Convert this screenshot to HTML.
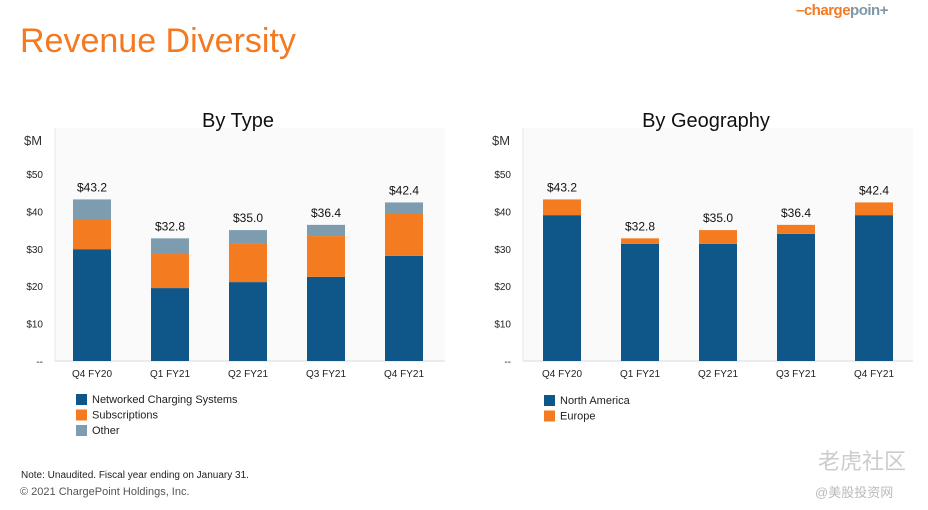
<!DOCTYPE html>
<html><head><meta charset="utf-8">
<style>
body{margin:0;width:928px;height:510px;background:#fff;font-family:"Liberation Sans",sans-serif;position:relative;overflow:hidden}
.abs{position:absolute}
</style></head>
<body>
<div class="abs" style="left:20px;top:22px;font-size:34px;color:#f47920">Revenue Diversity</div>
<div class="abs" style="left:796px;top:2px;font-size:15px;font-weight:bold;letter-spacing:-0.5px"><span style="color:#f47920">–charge</span><span style="color:#7e97a8">poin+</span></div>
<svg id="chart" class="abs" style="left:0;top:0" width="928" height="510"></svg>
<div class="abs" style="left:21px;top:470px;font-size:10px;color:#222">Note: Unaudited. Fiscal year ending on January 31.</div>
<div class="abs" style="left:20px;top:486px;font-size:11px;color:#555">© 2021 ChargePoint Holdings, Inc.</div>
<div class="abs" style="left:818px;top:444px;font-size:22px;color:#ccc;font-family:'Liberation Sans','Noto Sans CJK SC',sans-serif">老虎社区</div>
<div class="abs" style="left:815px;top:482px;font-size:13px;color:#bbb;font-family:'Liberation Sans','Noto Sans CJK SC',sans-serif">@美股投资网</div>
<script>
const categories=["Q4 FY20","Q1 FY21","Q2 FY21","Q3 FY21","Q4 FY21"];
const totals=["$43.2","$32.8","$35.0","$36.4","$42.4"];
const totalValues=[43.2,32.8,35.0,36.4,42.4];
const ncs=[29.9,19.5,21.1,22.5,28.1];
const subs=[7.8,9.1,10.2,10.9,11.2];
const other=[5.5,4.2,3.7,3.0,3.1];
const northAmerica=[39.0,31.3,31.3,34.0,39.0];
const europe=[4.2,1.5,3.7,2.4,3.4];
const yTicks=[0,10,20,30,40,50];
const yTickLabels=["--","$10","$20","$30","$40","$50"];
const C={blue:"#0f5788",orange:"#f47b20",grey:"#7d9cb0"};
const svg=document.getElementById('chart');
const NS="http://www.w3.org/2000/svg";
function mk(tag,attrs,parent){const e=document.createElementNS(NS,tag);for(const k in attrs)e.setAttribute(k,attrs[k]);(parent||svg).appendChild(e);return e;}
function txt(x,y,s,size,anchor,fill,parent){const t=mk('text',{x:x,y:y,'font-size':size,'text-anchor':anchor,fill:fill,'font-family':'Liberation Sans, sans-serif'},parent);t.textContent=s;return t;}
function drawChart(ox,title,series,colors,names,legendY,shift){
  const g=mk('g',{});
  
  
  const left=ox+55,right=ox+445,y0=361,scale=3.74;
  const yS=v=>y0-v*scale;
  const band=(right-left)/categories.length;
  const xC=i=>left+band*(i+0.5)+shift;
  mk('rect',{x:left,y:128,width:right-left,height:y0-128,fill:'#fafafa'},g);
  const tt=txt(ox+238,127,title,20,'middle','#111',g);
  
  
  const u=txt(ox+24,145,'$M',13,'start','#333',g);
  
  
  yTicks.forEach((v,i)=>{const t=txt(ox+43,yS(v)+4,yTickLabels[i],10,'end','#222',g);
    
    });
  mk('line',{x1:left,y1:y0,x2:right,y2:y0,stroke:'#d9d9d9'},g);
  mk('line',{x1:left,y1:128,x2:left,y2:y0,stroke:'#e6e6e6'},g);
  const bw=38;
  categories.forEach((c,i)=>{
    let acc=0;
    series.forEach((s,k)=>{
      const r=mk('rect',{x:xC(i)-bw/2,y:yS(acc+s[i]),width:bw,height:s[i]*scale,fill:colors[k]},g);
      
      
      acc+=s[i];
    });
    const l=txt(xC(i),yS(totalValues[i])-8,totals[i],12,'middle','#111',g);
    
    
    const x=txt(xC(i),y0+16,c,10,'middle','#222',g);
    
    
  });
  names.forEach((n,k)=>{
    const ly=legendY+k*15.5;
    const r=mk('rect',{x:ox+76,y:ly-9,width:11,height:11,fill:colors[k]},g);
    
    
    const t=txt(ox+92,ly,n,11,'start','#222',g);
    
    
  });
}
drawChart(0,'By Type',[ncs,subs,other],[C.blue,C.orange,C.grey],['Networked Charging Systems','Subscriptions','Other'],403,-2);
drawChart(468,'By Geography',[northAmerica,europe],[C.blue,C.orange],['North America','Europe'],404,0);
</script>
</body></html>
